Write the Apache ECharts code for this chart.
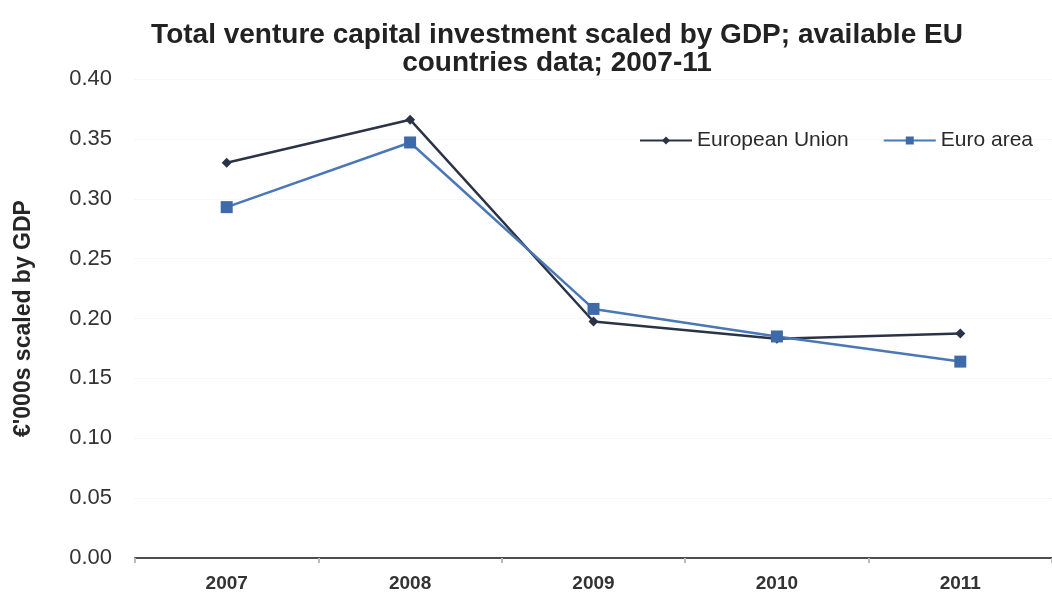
<!DOCTYPE html>
<html>
<head>
<meta charset="utf-8">
<script src="https://cdn.jsdelivr.net/npm/echarts@6/dist/echarts.min.js"></script>
<style>
  html, body { margin: 0; padding: 0; background: #ffffff; }
  #chart { width: 1052px; height: 598px; }
</style>
</head>
<body>
<div id="chart"></div>
<script>
// Venture capital investment per GDP, 2007-2011
const years = ['2007', '2008', '2009', '2010', '2011'];
const europeanUnion = [0.330, 0.366, 0.1975, 0.183, 0.1875];
const euroArea = [0.293, 0.347, 0.208, 0.185, 0.164];
const yTicks = [0, 0.05, 0.10, 0.15, 0.20, 0.25, 0.30, 0.35, 0.40];

const font = '"Liberation Sans Narrow", "Liberation Sans", Arial, sans-serif';
const euColor = '#2b3447';
const eaColor = '#4a78b6';

const chart = echarts.init(document.getElementById('chart'), null, { renderer: 'canvas' });
chart.setOption({
  backgroundColor: '#ffffff',
  animation: false,
  title: {
    text: 'Total venture capital investment scaled by GDP; available EU\ncountries data; 2007-11',
    left: 552,
    textAlign: 'center',
    top: 16,
    textStyle: {
      fontFamily: font,
      fontWeight: 'bold',
      fontSize: 28,
      lineHeight: 28,
      color: '#222222'
    }
  },
  legend: {
    top: 125,
    right: 14,
    itemGap: 34,
    itemWidth: 52,
    itemHeight: 10,
    textStyle: { fontFamily: 'Liberation Sans, Arial, sans-serif', fontSize: 21, color: '#2a2a2a' },
    data: ['European Union', 'Euro area']
  },
  grid: { left: 135, right: -8, top: 79, bottom: 40 },
  xAxis: {
    type: 'category',
    data: years,
    boundaryGap: true,
    axisLine: { lineStyle: { color: '#4d4d4d', width: 2 } },
    axisTick: { show: true, length: 5, lineStyle: { color: '#bbbbbb', width: 2 } },
    axisLabel: {
      fontFamily: font,
      fontSize: 19,
      fontWeight: 'bold',
      color: '#333333',
      margin: 16
    },
    splitLine: { show: false }
  },
  yAxis: {
    type: 'value',
    min: 0,
    max: 0.4,
    interval: 0.05,
    name: "€'000s scaled by GDP",
    nameLocation: 'middle',
    nameGap: 100,
    nameTextStyle: {
      fontFamily: font,
      fontWeight: 'bold',
      fontSize: 23,
      color: '#262626'
    },
    axisLine: { show: false },
    axisTick: { show: false },
    axisLabel: {
      fontFamily: 'Liberation Sans, Arial, sans-serif',
      fontSize: 22,
      color: '#333333',
      margin: 23,
      formatter: v => yTicks.includes(Math.round(v * 100) / 100) ? v.toFixed(2) : ''
    },
    splitLine: { show: true, lineStyle: { color: '#eef0f4', type: 'dotted', width: 1 } }
  },
  series: [
    {
      name: 'European Union',
      type: 'line',
      data: europeanUnion,
      symbol: 'diamond',
      symbolSize: 10,
      lineStyle: { color: euColor, width: 2.5 },
      itemStyle: { color: euColor }
    },
    {
      name: 'Euro area',
      type: 'line',
      data: euroArea,
      symbol: 'rect',
      symbolSize: 12,
      lineStyle: { color: eaColor, width: 2.5 },
      itemStyle: { color: '#3f6aa8' }
    }
  ]
});
</script>
</body>
</html>
